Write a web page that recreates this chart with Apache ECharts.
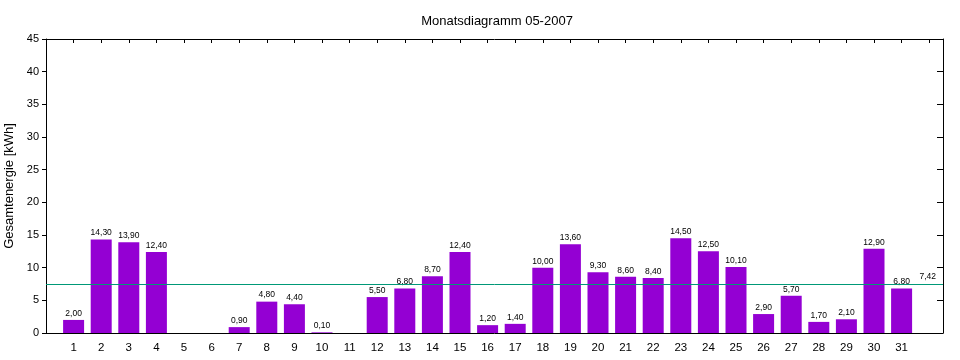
<!DOCTYPE html>
<html><head><meta charset="utf-8">
<script src="https://cdn.jsdelivr.net/npm/echarts@6/dist/echarts.min.js"></script>
<style>html,body{margin:0;padding:0;background:#fff}#c{width:960px;height:360px}</style>
</head><body><div id="c"></div>
<script>
const title = 'Monatsdiagramm 05-2007';
const yName = 'Gesamtenergie [kWh]';
const days = [1,2,3,4,5,6,7,8,9,10,11,12,13,14,15,16,17,18,19,20,21,22,23,24,25,26,27,28,29,30,31];
const values = [2.0,14.3,13.9,12.4,null,null,0.9,4.8,4.4,0.1,null,5.5,6.8,8.7,12.4,1.2,1.4,10.0,13.6,9.3,8.6,8.4,14.5,12.5,10.1,2.9,5.7,1.7,2.1,12.9,6.8];
const mean = 7.42;
const xMax = 32.5;

const fmt = v => v.toFixed(2).replace('.', ',');
const font = 'Liberation Sans';
const chart = echarts.init(document.getElementById('c'), null, {renderer:'canvas'});
chart.setOption({
  animation:false,
  textStyle:{fontFamily:font},
  title:{text:title,left:492,top:10,textAlign:'center',textStyle:{fontSize:13,fontWeight:'normal',color:'#000',fontFamily:font}},
  grid:{left:46,right:17,top:39,bottom:27,containLabel:false,outerBoundsMode:'none'},
  xAxis:[{
    type:'value',min:0,max:xMax,interval:1,position:'bottom',
    axisLine:{onZero:false,lineStyle:{color:'#000',width:1}},
    axisTick:{show:false},
    splitLine:{show:false},
    axisLabel:{color:'#000',fontSize:11.5,margin:9,formatter:v=>(v>=1&&v<=31)?String(v):''}
  },{
    type:'value',min:0,max:xMax,interval:1,position:'top',
    axisLine:{show:true,onZero:false,lineStyle:{color:'#000',width:1}},
    axisTick:{show:true,inside:true,length:4,lineStyle:{color:'#000'}},
    splitLine:{show:false},axisLabel:{show:false}
  }],
  yAxis:[{
    type:'value',min:0,max:45,interval:5,position:'left',
    name:yName,nameLocation:'middle',nameGap:24,nameTextStyle:{color:'#000',fontSize:13,fontFamily:font},
    axisLine:{show:true,onZero:false,lineStyle:{color:'#000'}},
    axisTick:{show:true,length:4,lineStyle:{color:'#000'}},
    splitLine:{show:false},
    axisLabel:{color:'#000',fontSize:11,margin:7}
  },{
    type:'value',min:0,max:45,interval:5,position:'right',
    axisLine:{show:true,onZero:false,lineStyle:{color:'#000'}},
    axisTick:{show:true,inside:true,length:6,lineStyle:{color:'#000'}},
    splitLine:{show:false},axisLabel:{show:false}
  }],
  series:[{
    type:'bar',
    data:days.map((d,i)=>[d,values[i]]),
    barWidth:21,
    itemStyle:{color:'#9400D3'},
    label:{show:true,position:'top',distance:2,fontSize:8.5,fontFamily:font,color:'#000',formatter:p=>p.value[1]==null?'':fmt(p.value[1])},
    markLine:{
      silent:true,symbol:'none',animation:false,
      data:[{yAxis:mean}],
      lineStyle:{color:'#009977',width:1,type:'solid'},
      label:{show:true,position:'insideEndTop',distance:[7,3],fontSize:8.5,fontFamily:font,color:'#000',formatter:()=>fmt(mean)},
      emphasis:{disabled:true}
    }
  }]
});
</script></body></html>
